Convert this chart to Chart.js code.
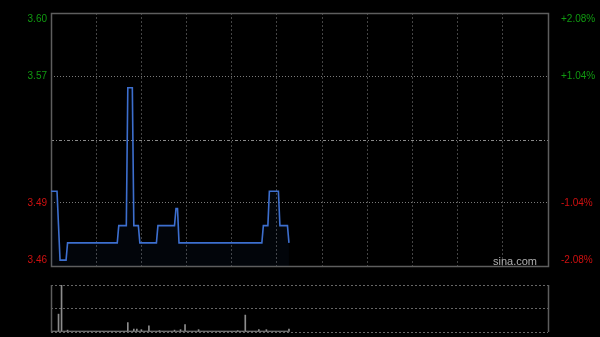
<!DOCTYPE html>
<html>
<head>
<meta charset="utf-8">
<script src="https://cdn.jsdelivr.net/npm/chart.js@4"></script>
<style>
  html,body{margin:0;padding:0;background:#000;width:600px;height:337px;overflow:hidden;}
  canvas{position:absolute;left:0;top:0;}
</style>
</head>
<body>
<canvas id="price" width="600" height="337"></canvas>
<canvas id="vol" width="600" height="337"></canvas>
<script>
// ---- data (one value per trading minute) ----
const priceSeries = [
  3.50,3.50,3.50,3.50,3.50,3.48,3.46,3.46,3.46,3.46,
  3.46,3.47,3.47,3.47,3.47,3.47,3.47,3.47,3.47,3.47,
  3.47,3.47,3.47,3.47,3.47,3.47,3.47,3.47,3.47,3.47,
  3.47,3.47,3.47,3.47,3.47,3.47,3.47,3.47,3.47,3.47,
  3.47,3.47,3.47,3.47,3.47,3.48,3.48,3.48,3.48,3.48,
  3.48,3.56,3.56,3.56,3.56,3.48,3.48,3.48,3.48,3.47,
  3.47,3.47,3.47,3.47,3.47,3.47,3.47,3.47,3.47,3.47,
  3.47,3.48,3.48,3.48,3.48,3.48,3.48,3.48,3.48,3.48,
  3.48,3.48,3.48,3.49,3.49,3.47,3.47,3.47,3.47,3.47,
  3.47,3.47,3.47,3.47,3.47,3.47,3.47,3.47,3.47,3.47,
  3.47,3.47,3.47,3.47,3.47,3.47,3.47,3.47,3.47,3.47,
  3.47,3.47,3.47,3.47,3.47,3.47,3.47,3.47,3.47,3.47,
  3.47,3.47,3.47,3.47,3.47,3.47,3.47,3.47,3.47,3.47,
  3.47,3.47,3.47,3.47,3.47,3.47,3.47,3.47,3.47,3.47,
  3.47,3.48,3.48,3.48,3.48,3.50,3.50,3.50,3.50,3.50,
  3.50,3.50,3.48,3.48,3.48,3.48,3.48,3.48,3.47
];
const volumeSeries = [
  30,2,2,2,2,38,2,100,2,2,
  2,4,2,2,2,2,2,2,2,2,
  2,2,2,2,2,2,2,2,2,2,
  2,2,2,2,2,2,2,2,2,2,
  2,2,2,2,2,2,2,2,2,2,
  2,20,2,2,2,6,2,6,2,2,
  5,2,2,2,2,13,2,2,2,2,
  2,2,3,2,2,2,2,2,2,2,
  2,2,4,2,2,2,5,2,2,16,
  2,2,2,2,2,2,2,2,5,2,
  2,2,2,2,2,2,2,2,2,2,
  2,2,2,2,2,2,2,2,2,2,
  2,2,2,2,3,2,2,2,2,36,
  2,2,2,2,2,2,2,2,5,2,
  2,2,2,5,2,2,2,2,2,2,
  2,2,2,2,2,2,2,2,6
];
const prevClose = 3.53;
const priceTickValues = [3.4566, 3.4933, 3.53, 3.5667, 3.6034];
const priceTickLabels = ['3.46', '3.49', '', '3.57', '3.60'];
const pctTickLabels = ['-2.08%', '-1.04%', '', '+1.04%', '+2.08%'];
const timeTickValues = [0,30,60,90,120,150,180,210,240,270,300,330];
const volumeTickValues = [0, 50, 100];
const watermark = 'sina.com';

// ---- styles ----
const FONT = '"Liberation Sans", Arial, sans-serif';
const GREEN = '#109a10';
const RED = '#d01010';
const FRAME = '#5e5e5e';

function tickColor(ctx){
  const i = ctx.index;
  return i < 2 ? RED : (i > 2 ? GREEN : '#888');
}
function edgeLabel(labels){
  return function(value, index){
    const t = labels[index];
    if (index === 0) return [t, ''];
    if (index === labels.length - 1) return ['', t];
    return t;
  };
}
function noPad(s, w){
  s.width = w;
  s.paddingTop = 0;
  s.paddingBottom = 0;
}

const framePlugin = {
  id: 'frame',
  beforeDatasetsDraw(chart){
    const {ctx, chartArea:a, scales} = chart;
    ctx.save();
    const y = Math.round(scales.y.getPixelForValue(prevClose)) + 0.5;
    ctx.strokeStyle = '#8a8a8a';
    ctx.lineWidth = 1;
    ctx.setLineDash([3,2,1,2]);
    ctx.beginPath(); ctx.moveTo(a.left, y); ctx.lineTo(a.right, y); ctx.stroke();
    ctx.setLineDash([]);
    ctx.strokeStyle = FRAME;
    ctx.lineWidth = 1.5;
    ctx.strokeRect(Math.round(a.left)+0.5, Math.round(a.top)+0.5, Math.round(a.right-a.left), Math.round(a.bottom-a.top));
    ctx.restore();
  },
  afterDraw(chart){
    const {ctx, chartArea:a} = chart;
    ctx.save();
    ctx.font = '11px ' + FONT;
    ctx.fillStyle = '#b0b0b0';
    ctx.textAlign = 'right';
    ctx.textBaseline = 'bottom';
    ctx.fillText(watermark, a.right - 11, a.bottom + 1);
    ctx.restore();
  }
};

new Chart(document.getElementById('price'), {
  type: 'line',
  data: {
    datasets: [{
      data: priceSeries.map((p, i) => ({x: i, y: p})),
      borderColor: '#3d6fcf',
      borderWidth: 1.6,
      backgroundColor: 'rgba(40,80,170,0.06)',
      fill: 'start',
      pointRadius: 0,
      tension: 0
    }]
  },
  options: {
    responsive: false,
    animation: false,
    events: [],
    layout: {padding: {top: 13, bottom: 71, left: 0, right: 0}},
    plugins: {legend: {display: false}, tooltip: {enabled: false}},
    scales: {
      x: {
        type: 'linear', min: 0, max: 330,
        afterBuildTicks(s){ s.ticks = timeTickValues.map(v => ({value: v})); },
        afterFit(s){ s.height = 0; s.paddingLeft = 0; s.paddingRight = 0; },
        ticks: {display: false},
        grid: {
          drawTicks: false,
          color: ctx => (ctx.index === 0 || ctx.index === timeTickValues.length - 1) ? 'rgba(0,0,0,0)' : '#444',
          lineWidth: 1
        },
        border: {display: false, dash: [2,2]}
      },
      y: {
        position: 'left', min: priceTickValues[0], max: priceTickValues[priceTickValues.length-1],
        afterBuildTicks(s){ s.ticks = priceTickValues.map(v => ({value: v})); },
        afterFit(s){ noPad(s, 51); },
        ticks: {
          autoSkip: false, padding: 4,
          color: tickColor,
          font: {family: FONT, size: 10, lineHeight: 1.2},
          callback: edgeLabel(priceTickLabels)
        },
        grid: {
          drawTicks: false,
          color: ctx => (ctx.index === 0 || ctx.index === 2 || ctx.index === priceTickValues.length - 1) ? 'rgba(0,0,0,0)' : '#7a7a7a'
        },
        border: {display: false, dash: [1,2]}
      },
      y2: {
        position: 'right', min: priceTickValues[0], max: priceTickValues[priceTickValues.length-1],
        afterBuildTicks(s){ s.ticks = priceTickValues.map(v => ({value: v})); },
        afterFit(s){ noPad(s, 52); },
        ticks: {
          autoSkip: false, padding: 5,
          color: tickColor,
          font: {family: FONT, size: 10, lineHeight: 1.2},
          callback: edgeLabel(pctTickLabels)
        },
        grid: {display: false, drawOnChartArea: false},
        border: {display: false}
      }
    }
  },
  plugins: [framePlugin]
});

const volFramePlugin = {
  id: 'volframe',
  afterDraw(chart){
    const {ctx, chartArea:a} = chart;
    ctx.save();
    ctx.strokeStyle = FRAME;
    ctx.lineWidth = 1.5;
    const l = Math.round(a.left)+0.5, r = Math.round(a.right)+0.5;
    ctx.beginPath();
    ctx.moveTo(l, a.top); ctx.lineTo(l, a.bottom);
    ctx.moveTo(r, a.top); ctx.lineTo(r, a.bottom);
    ctx.stroke();
    ctx.restore();
  }
};

new Chart(document.getElementById('vol'), {
  type: 'bar',
  data: {
    datasets: [{
      data: volumeSeries.map((v, i) => ({x: i, y: v})),
      backgroundColor: '#8c8c8c',
      barThickness: 1,
      borderWidth: 0
    }]
  },
  options: {
    responsive: false,
    animation: false,
    events: [],
    layout: {padding: {top: 285, bottom: 5, left: 0, right: 52}},
    plugins: {legend: {display: false}, tooltip: {enabled: false}},
    scales: {
      x: {type: 'linear', min: 0, max: 330, display: false, offset: false},
      y: {
        position: 'left', min: 0, max: 100,
        afterBuildTicks(s){ s.ticks = volumeTickValues.map(v => ({value: v})); },
        afterFit(s){ noPad(s, 51); },
        ticks: {display: false},
        grid: {drawTicks: false, color: '#666'},
        border: {display: false, dash: [2,2]}
      }
    }
  },
  plugins: [volFramePlugin]
});
</script>
</body>
</html>
